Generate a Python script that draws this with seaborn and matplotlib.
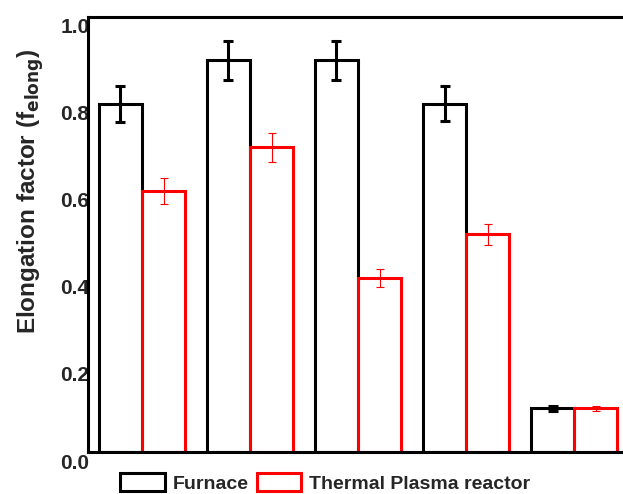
import matplotlib
matplotlib.use('Agg')
import matplotlib.pyplot as plt
import matplotlib.transforms as mtransforms
from matplotlib.patches import Patch
import seaborn as sns
import pandas as pd

#----------------data------------------------------------
samples = ['S1', 'S2', 'S3', 'S4', 'S5']
furnace = [0.80, 0.90, 0.90, 0.80, 0.10]
furnace_err = [0.041, 0.045, 0.045, 0.040, 0.006]
plasma = [0.60, 0.70, 0.40, 0.50, 0.10]
plasma_err = [0.030, 0.034, 0.020, 0.025, 0.005]
methods = ['Furnace', 'Thermal Plasma reactor']
colors = {'Furnace': 'black', 'Thermal Plasma reactor': 'red'}
yticks = [0.0, 0.2, 0.4, 0.6, 0.8, 1.0]

df = pd.DataFrame({
    'Sample': samples * 2,
    'Method': [methods[0]] * len(samples) + [methods[1]] * len(samples),
    'Value': furnace + plasma,
})

sns.set_style('white')
plt.rcParams['font.family'] = ['Liberation Sans', 'DejaVu Sans']
plt.rcParams['font.weight'] = 'bold'

fig = plt.figure(figsize=(6.23, 4.94), dpi=100)
ax = fig.add_axes([0.1413, 0.085, 0.867, 0.881])

sns.barplot(data=df, x='Sample', y='Value', hue='Method', hue_order=methods,
            palette=colors, fill=False, linewidth=2.2, errorbar=None,
            legend=False, ax=ax)

# error bars at the bar centres
for cont, err, col, lw, cap in zip(ax.containers, [furnace_err, plasma_err],
                                   ['black', 'red'], [2.2, 0.8], [3.8, 2.6]):
    xs = [p.get_x() + p.get_width() / 2 for p in cont.patches]
    ys = [p.get_height() for p in cont.patches]
    ax.errorbar(xs, ys, yerr=err, fmt='none', ecolor=col, elinewidth=lw,
                capsize=cap, capthick=lw, zorder=5)

ax.set_xlim(-0.5, 4.5)
ax.set_ylim(0, 1.0)
ax.set_yticks(yticks)
ax.set_yticklabels([f'{t:.1f}' for t in yticks], fontsize=15, fontweight='bold')
ax.tick_params(axis='y', length=0, pad=-1)
ax.tick_params(axis='x', length=0, labelbottom=False)
ax.set_xlabel('')
ax.set_ylabel(r'Elongation factor (f$_{\mathbf{elong}}$)', fontsize=17.5, fontweight='bold')
ax.yaxis.set_label_coords(-0.078, 0.6)

# tick labels sit a bit below the ticks in the original
offset = mtransforms.ScaledTranslation(0, -9 / 100, fig.dpi_scale_trans)
for lab in ax.get_yticklabels():
    lab.set_transform(lab.get_transform() + offset)

for s in ['left', 'top', 'bottom']:
    ax.spines[s].set_linewidth(2.2)
    ax.spines[s].set_color('black')
ax.spines['right'].set_visible(False)

handles = [Patch(facecolor='white', edgecolor=colors[m], linewidth=2.2) for m in methods]
fig.legend(handles, methods, loc='upper center', bbox_to_anchor=(0.522, 0.043),
           ncol=2, frameon=False, prop={'weight': 'bold', 'size': 14},
           handlelength=2.3, handleheight=1.1, handletextpad=0.4, columnspacing=0.4,
           borderpad=0, borderaxespad=0)

plt.savefig('out.png', dpi=100)
